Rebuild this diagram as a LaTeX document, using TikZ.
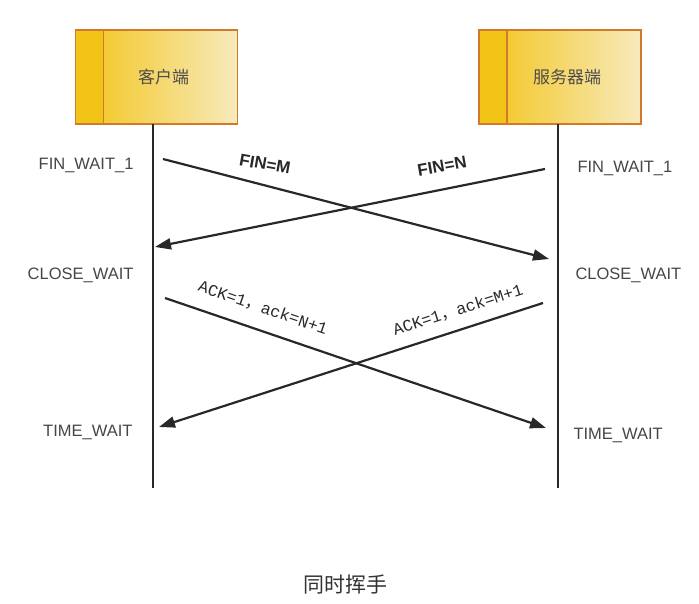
\documentclass[tikz,border=0pt]{standalone}
\usepackage{fontspec}
\setmainfont{Liberation Sans}
\newfontfamily\cjk{Noto Sans CJK SC}
\newfontfamily\ackfont{Liberation Mono}
\usetikzlibrary{arrows.meta}
\definecolor{boxedge}{RGB}{208,122,44}
\definecolor{boxgold}{RGB}{243,196,24}
\definecolor{boxmid}{RGB}{241,214,84}
\definecolor{boxcream}{RGB}{247,234,188}
\definecolor{wire}{RGB}{40,40,40}
\definecolor{ink}{RGB}{70,70,70}
\begin{document}
\begin{tikzpicture}[x=1pt,y=-1pt,
    host/.style={left color=boxgold,middle color=boxmid,right color=boxcream,
      minimum width=162pt,minimum height=94pt,inner sep=0pt,outer sep=0pt,
      path picture={\fill[boxgold] (path picture bounding box.north west) rectangle ([xshift=28pt]path picture bounding box.south west);
        \draw[boxedge,line width=1.8pt] ([xshift=28pt]path picture bounding box.north west) -- ([xshift=28pt]path picture bounding box.south west);}},
    frame/.style={draw=boxedge,line width=1.8pt},
    hostname/.style={font=\cjk\fontsize{17}{20}\selectfont,text=black!70},
    state/.style={font=\fontsize{16.5}{19}\selectfont,text=ink},
    life/.style={wire,line width=2pt},
    msg/.style={wire,line width=2.2pt,-{Triangle[length=16pt,width=11pt]}},
    fin/.style={font=\bfseries\fontsize{17}{20}\selectfont,text=wire},
    ack/.style={font=\ackfont\fontsize{16.5}{19}\selectfont,text=wire,inner sep=1pt}]
    \useasboundingbox (0,0) rectangle (699,604);
    % the two hosts
    \node[host,label={[hostname,xshift=7pt]center:客户端}] (cli) at (156.5,77) {};
    \node[host,label={[hostname,xshift=7pt]center:服务器端}] (srv) at (560,77) {};
    \draw[frame] (cli.north west) rectangle (cli.south east);
    \draw[frame] (srv.north west) rectangle (srv.south east);
    \coordinate (cliEnd) at (153,488);
    \coordinate (srvEnd) at (558,488);
    \draw[life] ([xshift=-3.5pt]cli.south) -- (cliEnd);
    \draw[life] ([xshift=-2pt]srv.south) -- (srvEnd);
    % states
    \node[state,anchor=east] (cliFin) at (137,165) {FIN\_WAIT\_1};
    \node[state,anchor=east] (cliClose) at (137,275) {CLOSE\_WAIT};
    \node[state,anchor=east] (cliTime) at (136,432) {TIME\_WAIT};
    \node[state,anchor=west] (srvFin) at (574,168) {FIN\_WAIT\_1};
    \node[state,anchor=west] (srvClose) at (572,275) {CLOSE\_WAIT};
    \node[state,anchor=west] (srvTime) at (570,435) {TIME\_WAIT};
    % message end points on the lifelines
    \coordinate (m1a) at (163,159);
    \coordinate (m1b) at (549,259);
    \coordinate (m2a) at (545,169);
    \coordinate (m2b) at (155,247);
    \coordinate (m3a) at (165,298);
    \coordinate (m3b) at (546,428);
    \coordinate (m4a) at (543,303);
    \coordinate (m4b) at (159,427);
    \draw[msg] (m1a) -- (m1b);
    \draw[msg] (m2a) -- (m2b);
    \draw[msg] (m3a) -- (m3b);
    \draw[msg] (m4a) -- (m4b);
    \node[fin,rotate=-10] (finM) at (265,164) {FIN=M};
    \node[fin,rotate=10] (finN) at (442,166) {FIN=N};
    \node[ack,rotate=-19] (ackN) at (263,308) {ACK=1{\cjk，}ack=N+1};
    \node[ack,rotate=18] (ackM) at (458,310) {ACK=1{\cjk，}ack=M+1};
    % caption
    \node[font=\cjk\fontsize{21}{24}\selectfont,text=black!80] (title) at (345,585) {同时挥手};
\end{tikzpicture}
\end{document}
